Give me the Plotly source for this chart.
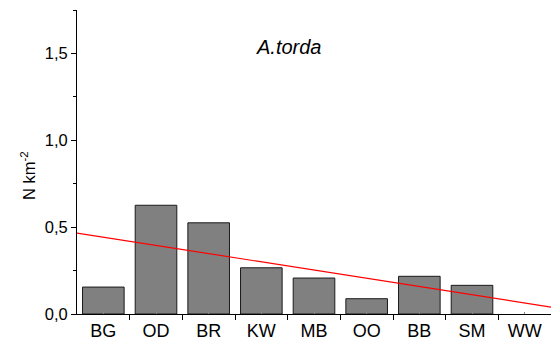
import plotly.graph_objects as go

categories = ["BG", "OD", "BR", "KW", "MB", "OO", "BB", "SM", "WW"]
density = [0.155, 0.626, 0.525, 0.266, 0.207, 0.088, 0.217, 0.165, 0.0]
trend_x = [-0.5, 8.5]
trend_y = [0.466, 0.040]
y_tickvals = [0.0, 0.5, 1.0, 1.5]
species = "A.torda"

idx = list(range(len(categories)))

fig = go.Figure()
fig.add_trace(go.Bar(
    x=idx, y=density, width=0.79,
    marker=dict(color="#808080",
                line=dict(color="#1a1a1a", width=[1 if v > 0 else 0 for v in density])),
    showlegend=False,
))
fig.add_trace(go.Scatter(
    x=trend_x, y=trend_y, mode="lines",
    line=dict(color="#ff0000", width=1.2), showlegend=False,
))

font = "Liberation Sans, Arial, sans-serif"
L, R, T, B = 77, 2, 10, 28
W, H = 553, 342
pw, ph = W - L - R, H - T - B
fig.update_layout(
    width=W, height=H,
    margin=dict(l=L, r=R, t=T, b=B, autoexpand=False),
    plot_bgcolor="white", paper_bgcolor="white",
    separators=",.",
    font=dict(family=font, color="black"),
    xaxis=dict(
        range=[-0.5, 8.5], tickvals=idx, ticktext=categories, automargin=False,
        showgrid=False, zeroline=False, showline=True, linecolor="black", linewidth=1,
        ticks="inside", ticklen=2, tickcolor="#888", tickfont=dict(size=18),
        minor=dict(tick0=-0.5, dtick=1, ticks="outside", ticklen=5, tickcolor="black", showgrid=False),
    ),
    yaxis=dict(
        range=[0, 1.75], tickvals=y_tickvals, tickformat=".1f", automargin=False,
        showgrid=False, zeroline=False, showline=True, linecolor="black", linewidth=1,
        ticks="outside", ticklen=5, tickcolor="black", tickfont=dict(size=16.5),
        minor=dict(dtick=0.25, tick0=0, ticks="outside", ticklen=3, tickcolor="black", showgrid=False),
    ),
    annotations=[
        dict(text="<i>" + species + "</i>", x=(288 - L) / pw, y=(H - B - 47) / ph,
             xref="paper", yref="paper", showarrow=False, font=dict(size=20),
             xanchor="center", yanchor="middle"),
        dict(text="N km<sup>-2</sup>", textangle=-90, x=(28 - L) / pw, y=(H - B - 176) / ph,
             xref="paper", yref="paper", showarrow=False, font=dict(size=16.5),
             xanchor="center", yanchor="middle"),
    ],
)

fig.write_html("out.html", config={"displayModeBar": False},
               post_script="document.body.style.margin='0';document.body.style.padding='0';")
